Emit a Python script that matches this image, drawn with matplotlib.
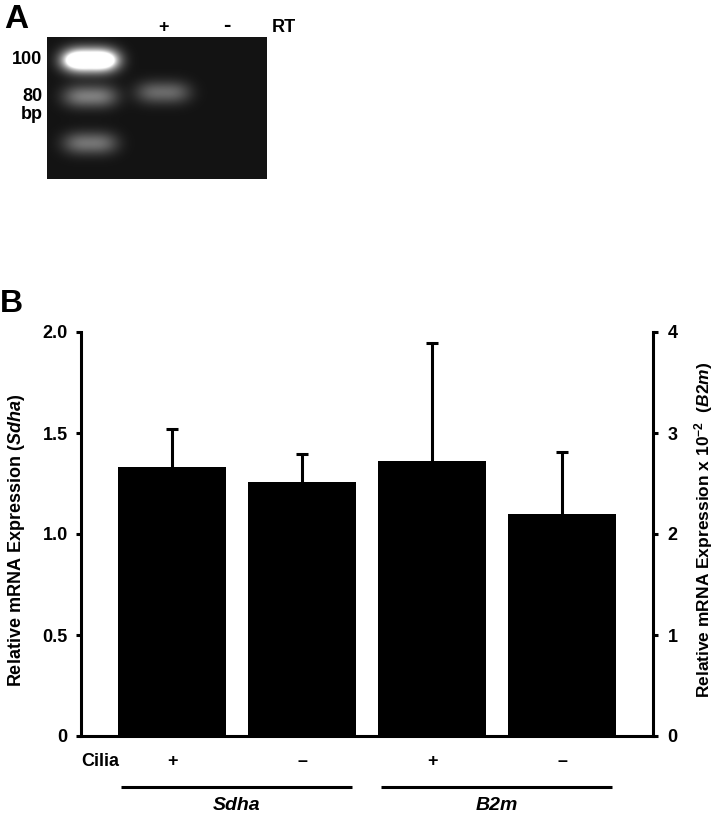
import numpy as np
import matplotlib
matplotlib.use('Agg')
import matplotlib.pyplot as plt
from matplotlib.transforms import blended_transform_factory

plt.rcParams['font.family'] = ['Liberation Sans', 'DejaVu Sans']
plt.rcParams['font.weight'] = 'bold'
plt.rcParams['axes.labelweight'] = 'bold'
plt.rcParams['mathtext.fontset'] = 'custom'
plt.rcParams['mathtext.rm'] = 'Liberation Sans:bold'
plt.rcParams['mathtext.it'] = 'Liberation Sans:italic:bold'
plt.rcParams['mathtext.bf'] = 'Liberation Sans:bold'

# ---- data ----
# panel A: gel (lane 0 = ladder, lane 1 = RT+, lane 2 = RT-)
ladder_bp = [100, 80, 60]
ladder_intensity = [1.5, 0.42, 0.38]
sample_bp = [82]
sample_intensity = [0.34]
rt_labels = ['+', '-']

# panel B: qPCR
cilia = ['+', '\u2013', '+', '\u2013']
genes = ['Sdha', 'B2m']
sdha_mean = [1.33, 1.255]
sdha_err = [0.19, 0.14]
b2m_mean = [2.72, 2.20]        # x 10^-2
b2m_err = [1.17, 0.61]
left_ticks = [0, 0.5, 1.0, 1.5, 2.0]
left_ticklabels = ['0', '0.5', '1.0', '1.5', '2.0']
right_ticks = [0, 1, 2, 3, 4]

W, H = 720, 816
fig = plt.figure(figsize=(W / 100, H / 100), dpi=100)

# ==================== Panel A: gel ====================
gx0, gx1 = -0.59, 2.42
gy_top = np.log(100) + 23 / 163
gy_bot = gy_top - 142 / 163
ax_gel = fig.add_axes([47 / W, 1 - 179 / H, 220 / W, 142 / H])
gx = np.linspace(gx0, gx1, 440)
gy = np.linspace(gy_top, gy_bot, 284)
X, Y = np.meshgrid(gx, gy)
img = np.full(X.shape, 0.075)
bands = [(0, ladder_bp, ladder_intensity), (1, sample_bp, sample_intensity)]
for lane, bps, ints in bands:
    for bp, inten in zip(bps, ints):
        img += inten * np.exp(-np.abs((X - lane) / 0.37) ** 3) * \
            np.exp(-((Y - np.log(bp)) / 0.07) ** 2)
# saturated spots on the 100 bp ladder band
for dx in (-0.2, 0.2):
    img += 0.5 * np.exp(-((X - dx) / 0.12) ** 2) * np.exp(-((Y - np.log(100)) / 0.035) ** 2)
ax_gel.imshow(np.clip(img, 0, 1), cmap='gray', vmin=0, vmax=1,
              extent=[gx0, gx1, gy_bot, gy_top], aspect='auto', origin='upper')
ax_gel.set_xlim(gx0, gx1)
ax_gel.set_ylim(gy_bot, gy_top)
ax_gel.axis('off')

gtr = blended_transform_factory(ax_gel.transAxes, ax_gel.transData)
ax_gel.text(-0.02, np.log(100), '100', transform=gtr, ha='right', va='center', fontsize=13)
ax_gel.text(-0.02, np.log(80), '80', transform=gtr, ha='right', va='center', fontsize=13)
ax_gel.text(-0.02, np.log(80) - 0.11, 'bp', transform=gtr, ha='right', va='center', fontsize=13)
gtr2 = blended_transform_factory(ax_gel.transData, ax_gel.transAxes)
ax_gel.text(1, 1.07, rt_labels[0], transform=gtr2, ha='center', va='center', fontsize=13)
ax_gel.text(1.87, 1.08, rt_labels[1], transform=gtr2, ha='center', va='center', fontsize=16)
ax_gel.text(1.02, 1.07, 'RT', transform=ax_gel.transAxes, ha='left', va='center', fontsize=13)

fig.text(4 / W, 1 - 19 / H, 'A', fontsize=24, ha='left', va='center')
fig.text(0 / W, 1 - 304 / H, 'B', fontsize=23, ha='left', va='center')

# ==================== Panel B: bars ====================
ax = fig.add_axes([81 / W, 1 - 736 / H, 572 / W, 404 / H])
ax2 = ax.twinx()
x = np.arange(len(cilia))
bw = 0.83
lw = 2.2

ax.bar(x[:2], sdha_mean, width=bw, color='black')
eb1 = ax.errorbar(x[:2], sdha_mean, yerr=[np.zeros(2), sdha_err], fmt='none', ecolor='black',
                  elinewidth=lw, capsize=4.3, capthick=lw)
ax2.bar(x[2:], b2m_mean, width=bw, color='black')
eb2 = ax2.errorbar(x[2:], b2m_mean, yerr=[np.zeros(2), b2m_err], fmt='none', ecolor='black',
                   elinewidth=lw, capsize=4.3, capthick=lw)
# only the upper cap
for eb in (eb1, eb2):
    eb[1][0].set_visible(False)

ax.set_xlim(-0.70, 3.70)
ax.set_ylim(0, 2.0)
ax2.set_ylim(0, 4)
ax.set_xticks([])
ax.set_yticks(left_ticks, left_ticklabels)
ax2.set_yticks(right_ticks, [str(t) for t in right_ticks])

for a in (ax, ax2):
    for s in a.spines.values():
        s.set_linewidth(lw)
    a.spines['top'].set_visible(False)
ax.spines['right'].set_visible(False)
ax2.spines['left'].set_visible(False)
ax2.spines['bottom'].set_visible(False)
ax.tick_params(axis='y', direction='out', length=3.6, width=lw, labelsize=13, pad=6)
ax2.tick_params(axis='y', direction='out', length=3.6, width=lw, labelsize=13, pad=7)

ax.set_ylabel('Relative mRNA Expression ($\\mathit{Sdha}$)', fontsize=13, va='center', ha='center')
ax.yaxis.set_label_coords(-0.113, 0.483)
ax2.set_ylabel('Relative mRNA Expression x 10$^{-2}$  ($\\mathit{B2m}$)', fontsize=12.5,
               va='center', ha='center')
ax2.yaxis.set_label_coords(1.088, 0.51)

trans = blended_transform_factory(ax.transData, ax.transAxes)
ax.text(0.0, -0.064, 'Cilia', transform=ax.transAxes, ha='left', va='center', fontsize=13)
for xi, s in zip(x, cilia):
    ax.text(xi, -0.064, s, transform=trans, ha='center', va='center', fontsize=13)
for gi, g in enumerate(genes):
    xa, xb = x[2 * gi], x[2 * gi + 1]
    ax.plot([xa - 0.39, xb + 0.385], [-0.126, -0.126], transform=trans, clip_on=False,
            color='black', lw=lw, solid_capstyle='butt')
    ax.text((xa + xb) / 2, -0.173, g, transform=trans, ha='center', va='center',
            fontsize=14, style='italic')

fig.savefig('out.png', dpi=100)
